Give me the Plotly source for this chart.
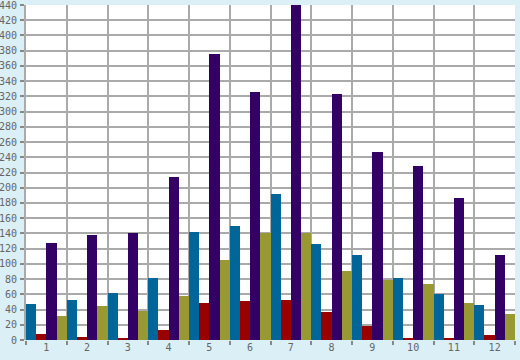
import plotly.graph_objects as go

categories = [str(i) for i in range(1, 13)]
series_blue = [47, 53, 62, 82, 142, 150, 192, 126, 112, 82, 61, 46]
series_red = [8, 4, 2, 13, 49, 51, 53, 37, 19, 3, 3, 7]
series_purple = [128, 138, 140, 214, 376, 326, 440, 323, 247, 229, 187, 112]
series_olive = [32, 45, 38, 58, 105, 140, 140, 91, 79, 74, 49, 34]

colors = ["#006699", "#990000", "#330066", "#999933"]
names = ["A", "B", "C", "D"]

fig = go.Figure()
for name, vals, col in zip(names, [series_blue, series_red, series_purple, series_olive], colors):
    fig.add_trace(go.Bar(x=categories, y=vals, name=name, marker=dict(color=col, line=dict(width=0))))

font = dict(family="DejaVu Sans Mono", size=10, color="#666666")
fig.update_layout(
    width=520, height=360,
    margin=dict(l=26, r=5, t=5, b=20, autoexpand=False),
    paper_bgcolor="#DAEFF6",
    plot_bgcolor="#FFFFFF",
    barmode="group", bargap=0, bargroupgap=0,
    showlegend=False,
    font=font,
)
fig.update_xaxes(
    type="category", range=[-0.5, 11.5], tickson="boundaries", ticks="outside", ticklen=4, tickwidth=2,
    tickcolor="#888888", showgrid=True, gridcolor="#AAAAAA", gridwidth=2,
    showline=False, tickfont=font, automargin=False, ticklabeloverflow="allow",
)
fig.update_yaxes(
    range=[0, 440], dtick=20, tick0=0, ticks="outside", ticklen=4, tickwidth=2,
    tickcolor="#888888", showgrid=True, gridcolor="#AAAAAA", gridwidth=2,
    zeroline=False, showline=True, linecolor="#AAAAAA", linewidth=2, tickfont=font,
    ticklabelstandoff=1, automargin=False, ticklabeloverflow="allow",
)
fig.write_html("out.html", config={"displayModeBar": False},
               post_script="document.body.style.margin='0';")
